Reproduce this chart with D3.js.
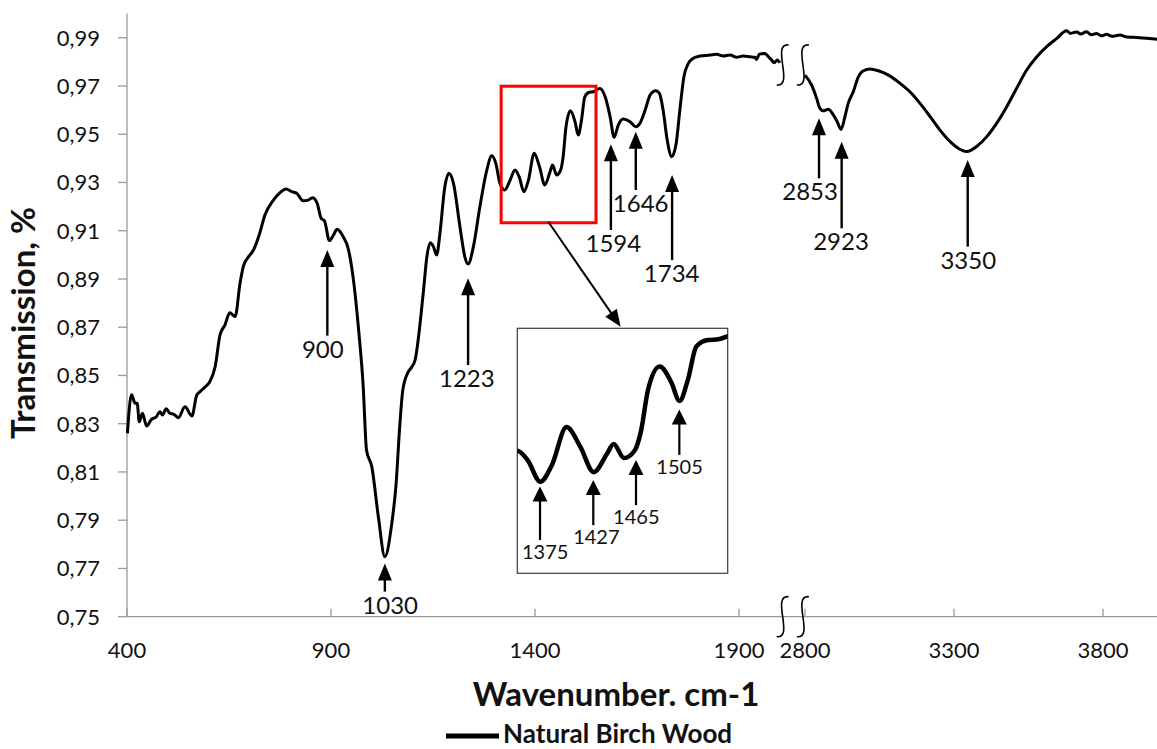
<!DOCTYPE html>
<html>
  <head>
    <meta charset="UTF-8">
    <title>FTIR - Natural Birch Wood</title>
    <script src="https://cdn.jsdelivr.net/npm/d3@7/dist/d3.min.js"></script>
    <style>
      body, html { margin:0; padding:0; background:#fff; }
      text { font-family: Lato, "Open Sans", sans-serif; fill:#111; }
      .axisline { stroke:#9a9a9a; stroke-width:1.3; fill:none; }
      .spectrum { fill:none; stroke:#000; stroke-width:3; stroke-linejoin:round; }
      .arrow { stroke:#000; stroke-width:2.2; }
      .brk { fill:none; stroke:#000; stroke-width:1.6; }
    </style>
  </head>
  <body>
<script type="text/javascript">

// spectrum, left part of the broken axis (400 - 2000 cm-1)
var leftWn = [401, 411, 420, 425, 430, 438, 448, 460, 471, 481, 487, 496, 505, 515, 526, 542, 559, 571, 579, 594,
  603, 616, 628, 640, 652, 665, 677, 685, 697, 710, 724, 738, 759, 775, 790, 804, 816, 832, 844, 855,
  866, 876, 884, 896, 906, 915, 930, 942, 955, 967, 979, 987, 1000, 1016, 1032, 1049, 1059, 1069, 1076, 1089,
  1098, 1106, 1126, 1135, 1143, 1151, 1159, 1167, 1179, 1189, 1200, 1216, 1228, 1236, 1249, 1265, 1282, 1294, 1304, 1314,
  1326, 1339, 1351, 1361, 1373, 1384, 1398, 1411, 1424, 1437, 1443, 1453, 1463, 1469, 1476, 1487, 1498, 1506, 1514, 1522,
  1533, 1543, 1559, 1572, 1584, 1594, 1604, 1616, 1633, 1647, 1657, 1670, 1682, 1696, 1705, 1714, 1724, 1735, 1746, 1755,
  1765, 1776, 1788, 1804, 1829, 1845, 1861, 1878, 1894, 1910, 1927, 1939, 1943, 1950, 1964, 1972, 1980, 1986, 1994, 2000];
var leftT = [0.826, 0.842, 0.8385, 0.8385, 0.8308, 0.8343, 0.829, 0.8318, 0.8327, 0.835, 0.8336, 0.8362, 0.8343, 0.8339, 0.8325, 0.837, 0.8332, 0.8419, 0.8433, 0.8456,
  0.8474, 0.8536, 0.8668, 0.8709, 0.876, 0.8744, 0.8882, 0.8951, 0.899, 0.902, 0.9082, 0.9165, 0.9227, 0.9258, 0.9273, 0.9262, 0.9255, 0.9224, 0.9227, 0.9237,
  0.9214, 0.9151, 0.9141, 0.9059, 0.9082, 0.9106, 0.9075, 0.9027, 0.8896, 0.8702, 0.8453, 0.8191, 0.8122, 0.7915, 0.7749, 0.7887, 0.8039, 0.8302, 0.844, 0.8514,
  0.8535, 0.8564, 0.884, 0.8992, 0.905, 0.9034, 0.8999, 0.9089, 0.9282, 0.9338, 0.9297, 0.9117, 0.8992, 0.8962, 0.9034, 0.92, 0.9352, 0.9411, 0.9379, 0.9297,
  0.9269, 0.931, 0.9352, 0.9324, 0.9262, 0.931, 0.9421, 0.9365, 0.929, 0.9345, 0.9372, 0.9331, 0.9352, 0.9407, 0.9531, 0.9597, 0.9552, 0.9497, 0.9559, 0.9655,
  0.9674, 0.9676, 0.969, 0.9655, 0.9573, 0.9487, 0.9538, 0.9563, 0.9552, 0.9531, 0.9545, 0.96, 0.9662, 0.968, 0.9669, 0.96, 0.9476, 0.9407, 0.9462, 0.96,
  0.9738, 0.9794, 0.9815, 0.9824, 0.9828, 0.9831, 0.9824, 0.9828, 0.9819, 0.9824, 0.9821, 0.9819, 0.981, 0.9832, 0.9835, 0.9821, 0.9808, 0.9796, 0.9808, 0.9796];

// spectrum, right part (2800 - 4000 cm-1)
var rightWn = [2800, 2822, 2839, 2850, 2861, 2878, 2895, 2908, 2921, 2934, 2945, 2962, 2979, 2996, 3018, 3046, 3080, 3119, 3152, 3186,
  3220, 3253, 3287, 3314, 3343, 3376, 3410, 3443, 3477, 3510, 3544, 3578, 3611, 3645, 3678, 3690, 3712, 3725, 3745, 3760,
  3779, 3795, 3812, 3830, 3857, 3880, 3902, 3947, 3981, 4000];
var rightT = [0.9745, 0.9704, 0.9649, 0.9607, 0.9597, 0.9603, 0.958, 0.9552, 0.952, 0.9573, 0.9628, 0.9676, 0.9738, 0.9763, 0.977, 0.9763, 0.9745, 0.9711, 0.9676, 0.9628,
  0.9573, 0.9517, 0.9469, 0.9442, 0.9428, 0.9449, 0.949, 0.9545, 0.9614, 0.969, 0.9766, 0.9821, 0.9863, 0.9897, 0.9929, 0.9918, 0.9924, 0.9915, 0.9925, 0.9912,
  0.9918, 0.9908, 0.9914, 0.9906, 0.9911, 0.9903, 0.9902, 0.9898, 0.9894, 0.9892];

var yTicks = [0.75, 0.77, 0.79, 0.81, 0.83, 0.85, 0.87, 0.89, 0.91, 0.93, 0.95, 0.97, 0.99];
var xTicksLeft = [400, 900, 1400, 1900];
var xTicksRight = [2800, 3300, 3800];

// peak annotations: label, side, arrow position, tip/tail transmission, label centre
var peakLabel = ["900", "1030", "1223", "1594", "1646", "1734", "2853", "2923", "3350"];
var peakSide  = ["L", "L", "L", "L", "L", "L", "R", "R", "R"];
var peakX     = [891, 1032, 1236, 1586, 1647, 1736, 2847, 2923, 3346];
var peakTip   = [0.9020, 0.7721, 0.8903, 0.9458, 0.9510, 0.9331, 0.9566, 0.9469, 0.9393];
var peakTail  = [0.8665, 0.7604, 0.8543, 0.9103, 0.9269, 0.8978, 0.9317, 0.9110, 0.9034];
var peakLabX  = [880, 1045, 1233, 1592, 1659, 1735, 2817, 2921, 3348];

// inset (zoom of 1351 - 1552 cm-1)
var insetDomX = [1351, 1552];
var insetDomY = [0.8996, 0.9708];
var insetLabel = ["1375", "1427", "1465", "1505"];
var insetX     = [1372.7, 1423.6, 1464.4, 1505.8];
var insetTip   = [0.9248, 0.9267, 0.9325, 0.9472];
var insetTail  = [0.9093, 0.9136, 0.9194, 0.9340];
var insetLabX  = [1377.6, 1426.5, 1464.7, 1506];

// red marker box on the main curve, and the pointer to the inset
var boxX = [1317, 1549.5];
var boxY = [0.9133, 0.9699];
var pointerFrom = [1432.6, 0.9137];
var pointerTo   = [1610, 0.8702];

var W = 1157, H = 749;
var svg = d3.select('body').append('svg').attr('width', W).attr('height', H);

var xL = d3.scaleLinear().domain([400, 2000]).range([127, 779.8]);
var xR = d3.scaleLinear().domain([2800, 4000]).range([805, 1162.6]);
var y  = d3.scaleLinear().domain([0.75, 1.0]).range([616.7, 13.6]);
var xs = { L: xL, R: xR };

var comma = d3.formatLocale({ decimal: ",", thousands: " ", grouping: [3], currency: ["", ""] }).format(".2f");

// axes
svg.append('line').attr('class', 'axisline')
   .attr('x1', xL(400)).attr('x2', W).attr('y1', y(0.75)).attr('y2', y(0.75));
svg.append('line').attr('class', 'axisline')
   .attr('x1', xL(400)).attr('x2', xL(400)).attr('y1', y(1.0)).attr('y2', y(0.75));

svg.selectAll('.ytick').data(yTicks).enter().append('line').attr('class', 'axisline')
   .attr('x1', xL(400) - 9).attr('x2', xL(400)).attr('y1', d => y(d)).attr('y2', d => y(d));
svg.selectAll('.ylab').data(yTicks).enter().append('text')
   .attr('x', 100).attr('y', d => y(d)).attr('dy', '0.36em')
   .attr('text-anchor', 'end').style('font-size', '22px')
   .text(d => comma(d));

var xt = xTicksLeft.map(d => xL(d)).concat(xTicksRight.map(d => xR(d)));
var xtl = xTicksLeft.concat(xTicksRight);
svg.selectAll('.xtick').data(xt).enter().append('line').attr('class', 'axisline')
   .attr('x1', d => d).attr('x2', d => d).attr('y1', y(0.75) - 8).attr('y2', y(0.75));
svg.selectAll('.xlab').data(xtl).enter().append('text')
   .attr('x', (d, i) => xt[i]).attr('y', 658)
   .attr('text-anchor', 'middle').style('font-size', '22px')
   .text(d => d);

svg.append('text').attr('transform', 'translate(35,' + 323 + ') rotate(-90)')
   .attr('text-anchor', 'middle').style('font-size', '33px').style('font-weight', 'bold')
   .text('Transmission, %');
svg.append('text').attr('x', 616).attr('y', 706)
   .attr('text-anchor', 'middle').style('font-size', '33px').style('font-weight', 'bold')
   .text('Wavenumber. cm-1');

// legend
svg.append('line').attr('x1', 446).attr('x2', 499).attr('y1', 736).attr('y2', 736)
   .attr('stroke', '#000').attr('stroke-width', 5);
svg.append('text').attr('x', 503).attr('y', 743)
   .style('font-size', '26px').style('font-weight', 'bold')
   .text('Natural Birch Wood');

// spectrum
var leftData = leftWn.map((d, i) => [d, leftT[i]]);
var rightData = rightWn.map((d, i) => [d, rightT[i]]);
svg.append('path').attr('class', 'spectrum')
   .attr('d', d3.line().x(d => xL(d[0])).y(d => y(d[1])).curve(d3.curveMonotoneX)(leftData));
svg.append('path').attr('class', 'spectrum')
   .attr('d', d3.line().x(d => xR(d[0])).y(d => y(d[1])).curve(d3.curveMonotoneX)(rightData));

// axis break marks
function breakMark(cx, cy) {
  svg.append('path').attr('class', 'brk')
     .attr('d', 'M' + (cx + 6) + ',' + (cy - 20) + ' C' + (cx - 12) + ',' + (cy - 22) + ' ' + (cx + 12) + ',' + (cy + 22) + ' ' + (cx - 6) + ',' + (cy + 20));
}
[xL(2007), xR(2793)].forEach(function(cx) {
  breakMark(cx, y(0.9787));
  breakMark(cx, y(0.75));
});

// arrows with labels
function upArrow(g, x, yTip, yTail, hw, hh, sw) {
  g.append('line').attr('class', 'arrow').style('stroke-width', sw)
   .attr('x1', x).attr('x2', x).attr('y1', yTip + hh - 1).attr('y2', yTail);
  g.append('path').attr('fill', '#000')
   .attr('d', 'M' + x + ',' + yTip + ' L' + (x + hw / 2) + ',' + (yTip + hh) + ' L' + (x - hw / 2) + ',' + (yTip + hh) + ' Z');
}

var ann = svg.append('g');
peakLabel.forEach(function(lab, i) {
  var sx = xs[peakSide[i]];
  upArrow(ann, sx(peakX[i]), y(peakTip[i]), y(peakTail[i]), 14, 17, 2.4);
  ann.append('text').attr('x', sx(peakLabX[i])).attr('y', y(peakTail[i]) + 22)
     .attr('text-anchor', 'middle').style('font-size', '24px').text(lab);
});

// red box and pointer
svg.append('rect').attr('x', xL(boxX[0])).attr('y', y(boxY[1]))
   .attr('width', xL(boxX[1]) - xL(boxX[0])).attr('height', y(boxY[0]) - y(boxY[1]))
   .attr('fill', 'none').attr('stroke', '#ff0000').attr('stroke-width', 3);

var px0 = xL(pointerFrom[0]), py0 = y(pointerFrom[1]), px1 = xL(pointerTo[0]), py1 = y(pointerTo[1]);
var ang = Math.atan2(py1 - py0, px1 - px0), ah = 17, aw = 7;
svg.append('line').attr('stroke', '#000').attr('stroke-width', 2)
   .attr('x1', px0).attr('y1', py0)
   .attr('x2', px1 - Math.cos(ang) * (ah - 2)).attr('y2', py1 - Math.sin(ang) * (ah - 2));
svg.append('path').attr('fill', '#000')
   .attr('d', 'M' + px1 + ',' + py1 +
     ' L' + (px1 - Math.cos(ang) * ah - Math.sin(ang) * aw) + ',' + (py1 - Math.sin(ang) * ah + Math.cos(ang) * aw) +
     ' L' + (px1 - Math.cos(ang) * ah + Math.sin(ang) * aw) + ',' + (py1 - Math.sin(ang) * ah - Math.cos(ang) * aw) + ' Z');

// inset
var ix = d3.scaleLinear().domain(insetDomX).range([517.3, 727.7]);
var iy = d3.scaleLinear().domain(insetDomY).range([573.3, 328.3]);
var inset = svg.append('g');
inset.append('clipPath').attr('id', 'insetclip').append('rect')
   .attr('x', ix.range()[0]).attr('y', iy.range()[1])
   .attr('width', ix.range()[1] - ix.range()[0]).attr('height', iy.range()[0] - iy.range()[1]);
inset.append('rect').attr('x', ix.range()[0]).attr('y', iy.range()[1])
   .attr('width', ix.range()[1] - ix.range()[0]).attr('height', iy.range()[0] - iy.range()[1])
   .attr('fill', '#fff').attr('stroke', '#3a3a3a').attr('stroke-width', 1.2);
var insetData = leftData.filter(d => d[0] >= 1330 && d[0] <= 1575);
inset.append('path').attr('clip-path', 'url(#insetclip)')
   .attr('fill', 'none').attr('stroke', '#000').attr('stroke-width', 4.5).attr('stroke-linejoin', 'round')
   .attr('d', d3.line().x(d => ix(d[0])).y(d => iy(d[1])).curve(d3.curveMonotoneX)(insetData));
insetLabel.forEach(function(lab, i) {
  upArrow(inset, ix(insetX[i]), iy(insetTip[i]), iy(insetTail[i]), 15, 15, 2.2);
  inset.append('text').attr('x', ix(insetLabX[i])).attr('y', iy(insetTail[i]) + 19)
     .attr('text-anchor', 'middle').style('font-size', '20px').text(lab);
});

</script>
  </body>
</html>
